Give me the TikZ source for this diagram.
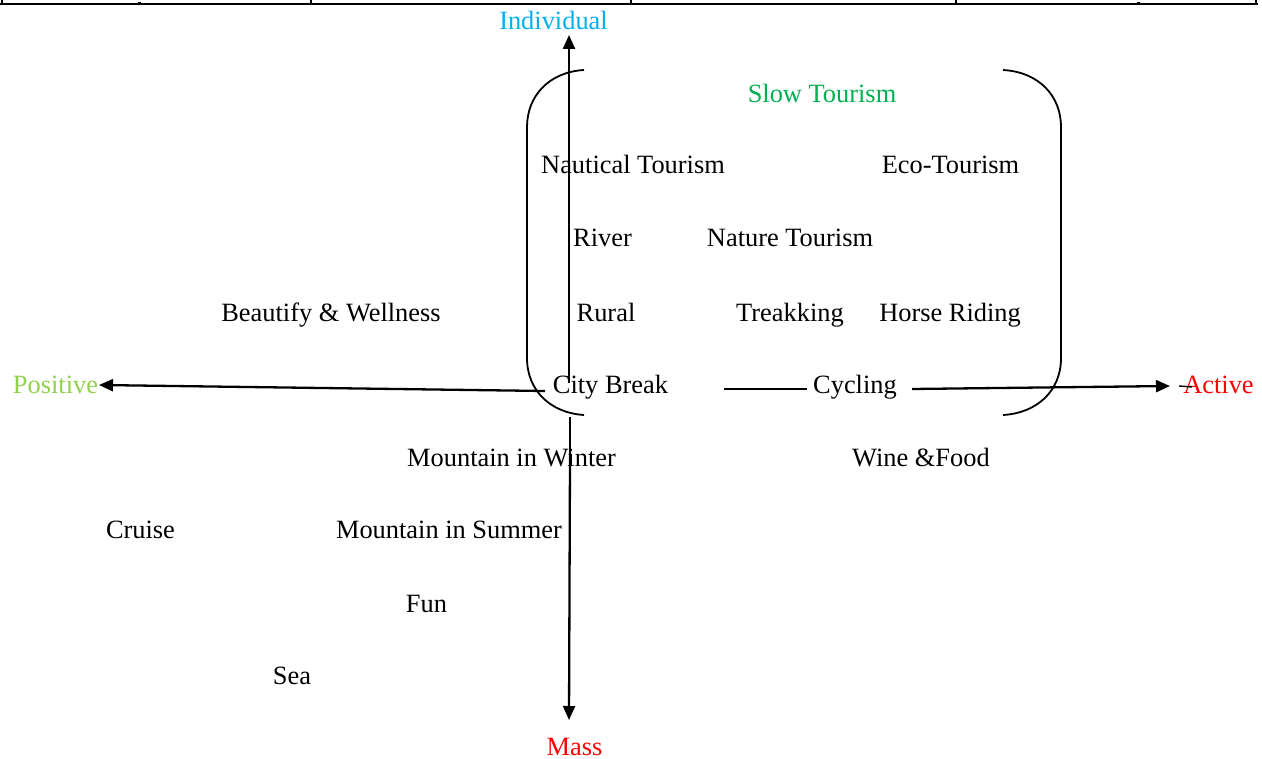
\documentclass[tikz,border=0pt]{standalone}
\usepackage{fontspec}
\setmainfont{Liberation Serif}
\usetikzlibrary{arrows.meta}
\definecolor{indblue}{RGB}{0,176,240}
\definecolor{slowgreen}{RGB}{0,176,80}
\definecolor{posgreen}{RGB}{146,208,80}
\definecolor{actred}{RGB}{255,0,0}
\begin{document}
\begin{tikzpicture}[x=0.5pt,y=-0.5pt,
  lbl/.style={inner sep=0pt,anchor=base,font=\fontsize{13.2pt}{15pt}\selectfont},
  axis/.style={line width=1.15pt,-{Triangle[length=7pt,width=6pt]}},
  axthin/.style={line width=0.7pt},
  brack/.style={line width=0.9pt},
  tbl/.style={line width=1.3pt}]
\useasboundingbox (0,0) rectangle (1262,759);
% table border at top
\coordinate (t0) at (2,0); \coordinate (t1) at (311,0); \coordinate (t2) at (631,0);
\coordinate (t3) at (956,0); \coordinate (t4) at (1256,0);
\coordinate (b0) at (0,4); \coordinate (b4) at (1258,4);
\draw[tbl] (b0) -- (b4);
\foreach \i in {0,...,4}{ \draw[tbl] (t\i) -- (t\i |- b0); }
\coordinate (m1a) at (139,2.5); \coordinate (m1b) at (139,4);
\coordinate (m2a) at (1138,2.5); \coordinate (m2b) at (1138,4);
\draw[line width=1.5pt] (m1a) -- (m1b);
\draw[line width=1.5pt] (m2a) -- (m2b);
% labels
\node[lbl,text=indblue] (ind) at (553.5,30) {Individual};
\node[lbl,text=slowgreen] (slow) at (822,103) {Slow Tourism};
\node[lbl] (naut) at (633,174) {Nautical Tourism};
\node[lbl] (eco) at (950.5,174) {Eco-Tourism};
\node[lbl] (river) at (602.5,247) {River};
\node[lbl] (nature) at (790,247) {Nature Tourism};
\node[lbl] (beauty) at (331,321) {Beautify \& Wellness};
\node[lbl] (rural) at (606,321) {Rural};
\node[lbl] (trek) at (790,321) {Treakking};
\node[lbl] (horse) at (950,321) {Horse Riding};
\node[lbl,text=posgreen] (pos) at (55.5,393) {Positive};
\node[lbl] (city) at (610.5,393) {City Break};
\node[lbl] (cyc) at (855,393) {Cycling};
\node[lbl,text=actred] (act) at (1218.5,393) {Active};
\node[lbl] (mwin) at (511.5,466) {Mountain in Winter};
\node[lbl] (wine) at (921,466) {Wine \&Food};
\node[lbl] (cruise) at (140.5,538) {Cruise};
\node[lbl] (msum) at (449,538) {Mountain in Summer};
\node[lbl] (fun) at (426.5,612) {Fun};
\node[lbl] (sea) at (292,684) {Sea};
\node[lbl,text=actred] (mass) at (574.5,755) {Mass};
% vertical axis
\coordinate (vtop) at (569,35);
\coordinate (vmid) at (569,205);
\coordinate (vc) at (569,383);
\coordinate (vb0) at (570,417);
\coordinate (vb1) at (570,457);
\coordinate (vbot) at (569,720);
\draw[axthin] (vc) -- (vmid);
\draw[axis] (vmid) -- (vtop);
\draw[axthin] (vb0) -- (vb1);
\draw[axis] (vb1) -- (vbot);
% horizontal axis
\coordinate (hl0) at (545,391);
\coordinate (hl1) at (99,385);
\coordinate (hm0) at (724,389);
\coordinate (hm1) at (807,389);
\coordinate (hr0) at (912,389);
\coordinate (hr1) at (1170,386);
\coordinate (d0) at (1179,386);
\coordinate (d1) at (1192,387);
\draw[axis] (hl0) -- (hl1);
\draw[axthin] (hm0) -- (hm1);
\draw[axis] (hr0) -- (hr1);
\draw[line width=0.7pt] (d0) -- (d1);
% brackets
\coordinate (lt) at (584,70); \coordinate (lb) at (584,415);
\coordinate (rt) at (1003,70); \coordinate (rb) at (1003,415);
\draw[brack] (lt) .. controls (549,72) and (527,96) .. (527,127) -- (527,358) .. controls (527,391) and (551,413) .. (lb);
\draw[brack] (rt) .. controls (1039,72) and (1061,96) .. (1061,127) -- (1061,358) .. controls (1061,391) and (1037,413) .. (rb);
\end{tikzpicture}
\end{document}
